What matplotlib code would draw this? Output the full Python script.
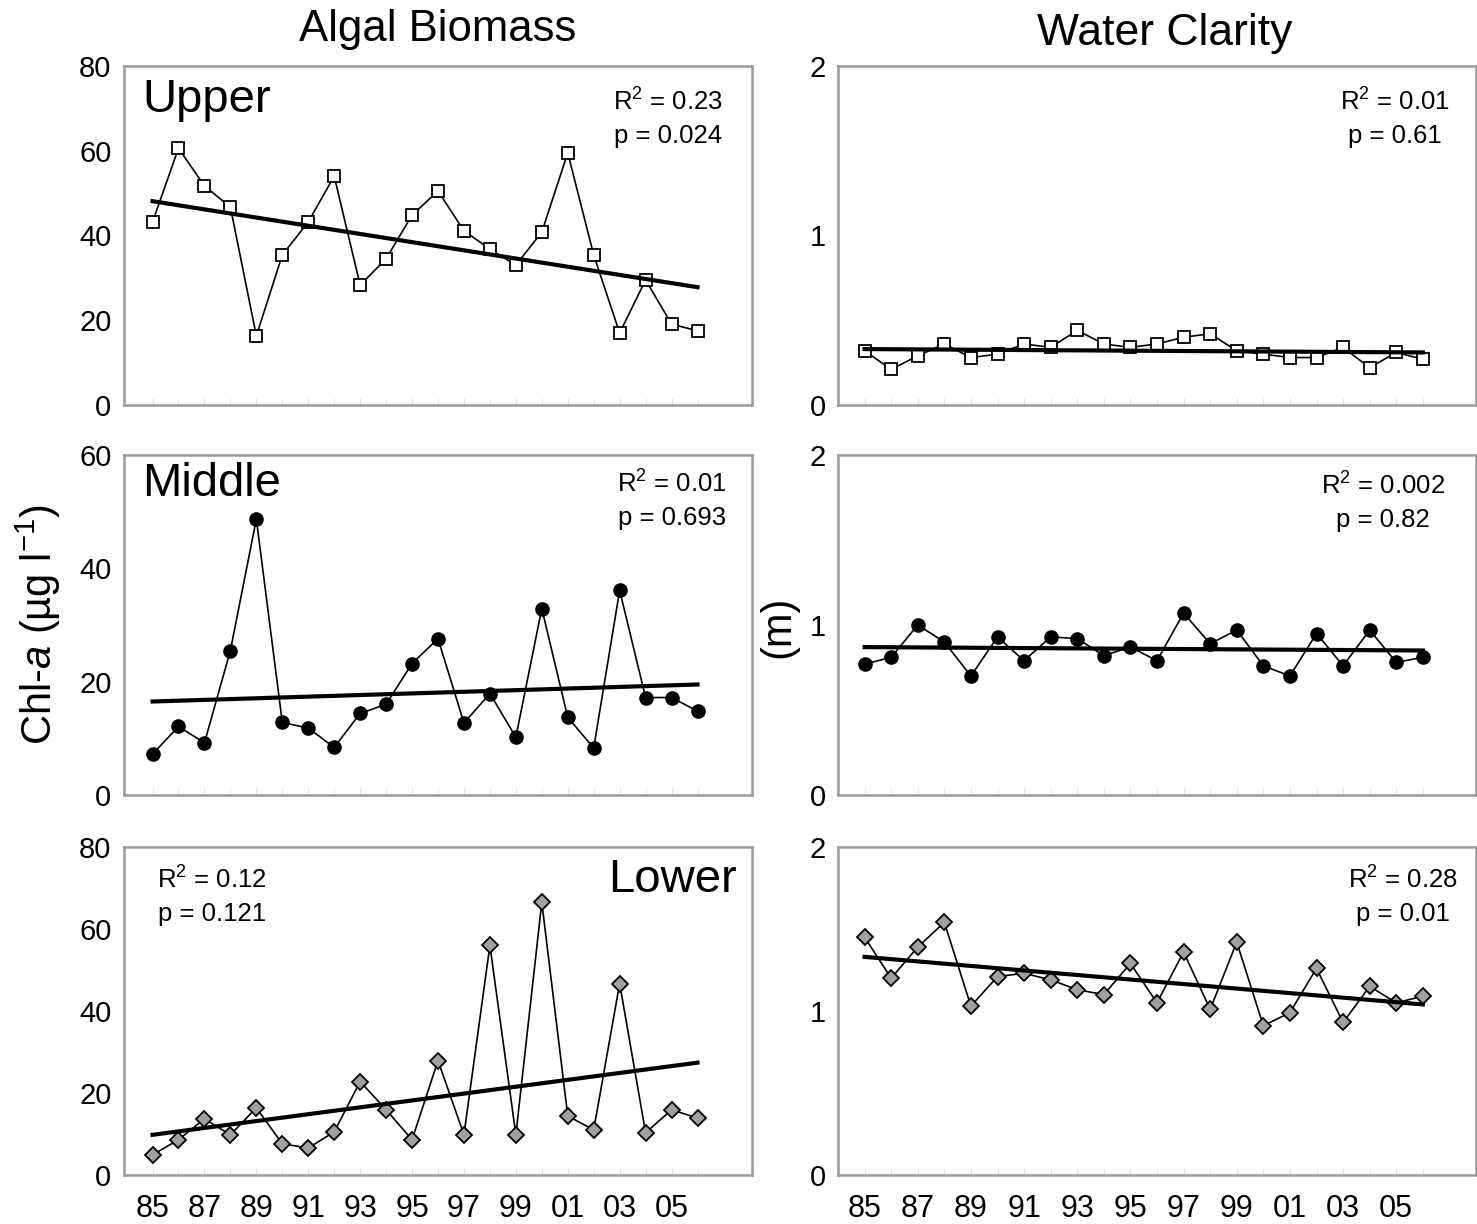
import numpy as np
import matplotlib.pyplot as plt

plt.rcParams['font.family'] = ['Liberation Sans', 'DejaVu Sans']
plt.rcParams['mathtext.fontset'] = 'custom'
plt.rcParams['mathtext.rm'] = 'Liberation Sans'
plt.rcParams['mathtext.it'] = 'Liberation Sans:style=italic'

years = np.arange(1985, 2007)
xtick_years = np.arange(1985, 2006, 2)
xtick_labels = ['%02d' % (y % 100) for y in xtick_years]

# algal biomass, Chl-a (ug/l)
upper_chl = [43.2, 60.6, 51.7, 46.7, 16.3, 35.4, 43.2, 54.0, 28.3, 34.5, 44.8,
             50.5, 41.1, 36.8, 33.0, 40.8, 59.5, 35.4, 17.0, 29.5, 19.1, 17.5]
middle_chl = [7.2, 12.1, 9.2, 25.5, 48.7, 12.8, 11.8, 8.4, 14.4, 16.0, 23.2,
              27.6, 12.7, 17.9, 10.2, 32.9, 13.7, 8.3, 36.1, 17.2, 17.2, 14.8]
lower_chl = [4.9, 8.6, 13.7, 9.8, 16.4, 7.6, 6.6, 10.5, 22.8, 15.9, 8.6,
             27.9, 9.8, 56.0, 9.8, 66.5, 14.4, 11.0, 46.7, 10.3, 15.9, 13.9]

# water clarity (m)
upper_wc = [0.32, 0.21, 0.29, 0.36, 0.28, 0.30, 0.36, 0.34, 0.44, 0.36, 0.34,
            0.36, 0.40, 0.42, 0.32, 0.30, 0.28, 0.28, 0.34, 0.22, 0.31, 0.27]
middle_wc = [0.77, 0.81, 1.00, 0.90, 0.70, 0.93, 0.79, 0.93, 0.92, 0.82, 0.87,
             0.79, 1.07, 0.89, 0.97, 0.76, 0.70, 0.95, 0.76, 0.97, 0.78, 0.81]
lower_wc = [1.45, 1.20, 1.39, 1.54, 1.03, 1.21, 1.23, 1.19, 1.13, 1.10, 1.29,
            1.05, 1.36, 1.01, 1.42, 0.91, 0.99, 1.26, 0.93, 1.15, 1.05, 1.09]

# regression lines, value at 1985 and 2006
trend_upper_chl = [48.1, 27.8]
trend_middle_chl = [16.5, 19.5]
trend_lower_chl = [9.8, 27.4]
trend_upper_wc = [0.33, 0.31]
trend_middle_wc = [0.87, 0.85]
trend_lower_wc = [1.33, 1.04]

stats = [["R$^2$ = 0.23\np = 0.024", "R$^2$ = 0.01\np = 0.61"],
         ["R$^2$ = 0.01\np = 0.693", "R$^2$ = 0.002\np = 0.82"],
         ["R$^2$ = 0.12\np = 0.121", "R$^2$ = 0.28\np = 0.01"]]

W, H = 1477, 1224
fig = plt.figure(figsize=(W / 100, H / 100), dpi=100)


def fx(px):
    return px / W


def fy(py):
    return 1 - py / H


rows = [(66, 405), (455, 795), (847, 1175)]
cols = [(124, 752), (838, 1476)]
data = [[upper_chl, upper_wc], [middle_chl, middle_wc], [lower_chl, lower_wc]]
trends = [[trend_upper_chl, trend_upper_wc], [trend_middle_chl, trend_middle_wc],
          [trend_lower_chl, trend_lower_wc]]
ymax = [[80, 2], [60, 2], [80, 2]]
yticks = [[[0, 20, 40, 60, 80], [0, 1, 2]], [[0, 20, 40, 60], [0, 1, 2]],
          [[0, 20, 40, 60, 80], [0, 1, 2]]]
marker_style = [dict(marker='s', ms=8.5, mfc='white', mec='black', mew=1.3),
                dict(marker='o', ms=9.5, mfc='black', mec='black', mew=1),
                dict(marker='D', ms=8, mfc='#a0a0a0', mec='black', mew=1.3)]
stat_pos = [[(668, 118), (1395, 118)], [(672, 500), (1383, 502)],
            [(212, 896), (1403, 896)]]

for r, (top, bot) in enumerate(rows):
    for c, (left, right) in enumerate(cols):
        ax = fig.add_axes([fx(left), fy(bot), fx(right) - fx(left), (bot - top) / H])
        ax.plot(years, data[r][c], color='black', lw=1.2, **marker_style[r], zorder=3)
        ax.plot([years[0], years[-1]], trends[r][c], color='black', lw=3, zorder=4)
        if c == 0:
            ax.set_xlim(1983.9, 2008.1)
        else:
            ax.set_xlim(1984.0, 2008.0)
        ax.set_ylim(0, ymax[r][c])
        ax.set_yticks(yticks[r][c])
        ax.set_xticks(xtick_years)
        ax.set_xticks(years, minor=True)
        if r == 2:
            ax.set_xticklabels(xtick_labels)
        else:
            ax.set_xticklabels([])
        ax.tick_params(axis='both', which='both', length=0, labelsize=21, pad=9,
                       colors='black')
        ax.tick_params(axis='x', which='both', direction='in', length=5,
                       color='#e2e2e2', labelcolor='black', pad=14, labelsize=22)
        for s in ax.spines.values():
            s.set_color('#9a9a9a')
            s.set_linewidth(1.8)
        fig.text(fx(stat_pos[r][c][0]), fy(stat_pos[r][c][1]), stats[r][c],
                 fontsize=18.5, ha='center', va='center', multialignment='center',
                 linespacing=1.45)

fig.text(fx(142), fy(100), 'Upper', fontsize=34, ha='left', va='center')
fig.text(fx(142), fy(484), 'Middle', fontsize=34, ha='left', va='center')
fig.text(fx(737), fy(880), 'Lower', fontsize=34, ha='right', va='center')

fig.text(fx(438), fy(30), 'Algal Biomass', fontsize=31.5, ha='center', va='center')
fig.text(fx(1165), fy(33), 'Water Clarity', fontsize=32, ha='center', va='center')

fig.text(fx(38), fy(625), 'Chl-$\\mathit{a}$ (µg l$^{-1}$)', fontsize=30,
         rotation=90, ha='center', va='center')
fig.text(fx(778), fy(627), '(m)', fontsize=30, rotation=90, ha='center', va='center')

fig.savefig('out.png', dpi=100)
